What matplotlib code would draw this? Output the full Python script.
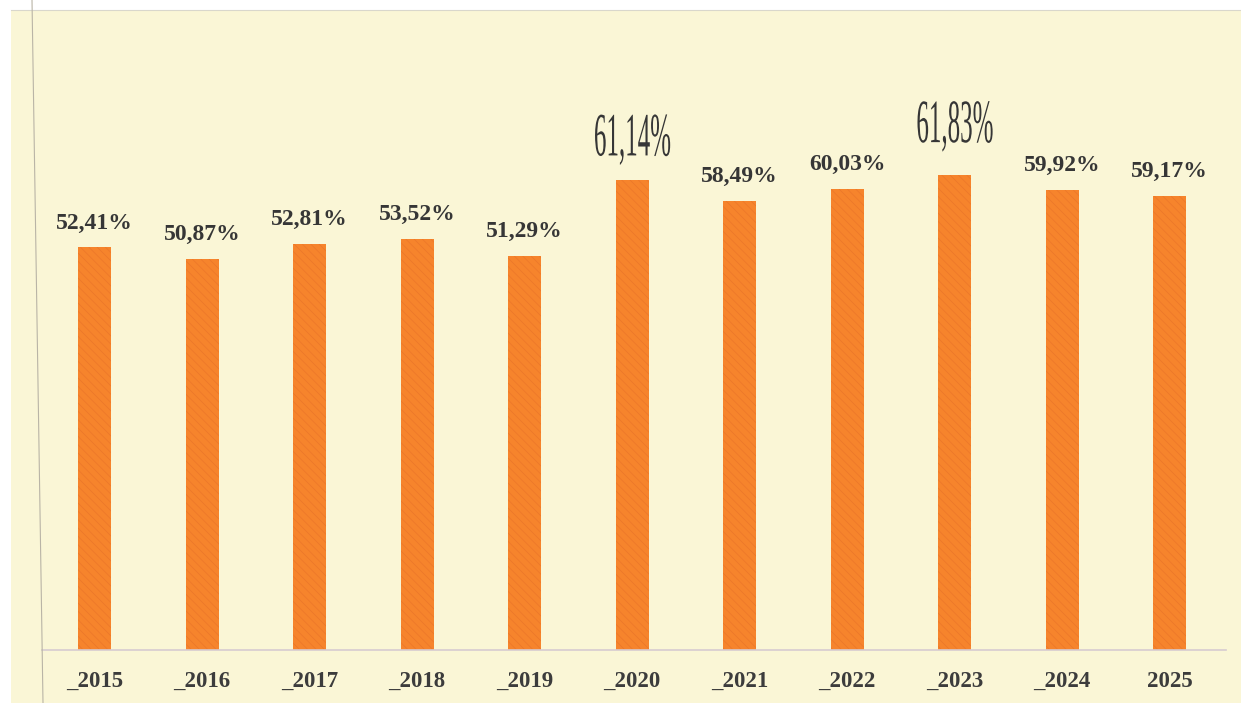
import matplotlib.pyplot as plt
from matplotlib.lines import Line2D
from matplotlib.patches import Rectangle
from matplotlib.patheffects import AbstractPathEffect
from matplotlib.transforms import Affine2D

years = ['_2015', '_2016', '_2017', '_2018', '_2019', '_2020',
         '_2021', '_2022', '_2023', '_2024', '2025']
values = [52.41, 50.87, 52.81, 53.52, 51.29, 61.14,
          58.49, 60.03, 61.83, 59.92, 59.17]
labels = ['52,41%', '50,87%', '52,81%', '53,52%', '51,29%', '61,14%',
          '58,49%', '60,03%', '61,83%', '59,92%', '59,17%']
# years whose label is set in the tall narrow face
big_labels = ['_2020', '_2023']

W, H = 1241, 703
CREAM = '#faf6d6'
ORANGE = '#f6842c'
INK = '#363636'


class Stretch(AbstractPathEffect):
    """Scale glyphs around the text centre (x) and baseline (y)."""

    def __init__(self, sx, sy):
        super().__init__()
        self.sx, self.sy = sx, sy

    def draw_path(self, renderer, gc, tpath, affine, rgbFace=None):
        ext = tpath.get_extents(affine)
        cx = (ext.x0 + ext.x1) / 2
        by = affine.transform((0, 0))[1]
        t = affine + Affine2D().translate(-cx, -by).scale(self.sx, self.sy).translate(cx, by)
        renderer.draw_path(gc, tpath, t, rgbFace)


fig = plt.figure(figsize=(W / 100, H / 100), dpi=100, facecolor='white')

# scanned page: cream sheet with a white margin on the left and top
fig.patches.append(Rectangle((11 / W, 0), 1, 1 - 10 / H, transform=fig.transFigure,
                             facecolor=CREAM, edgecolor='none', zorder=-10))
fig.lines.append(Line2D([11 / W, 1], [1 - 10 / H, 1 - 10 / H], transform=fig.transFigure,
                        color='#d9d7cc', lw=0.8))
fig.lines.append(Line2D([32 / W, 43 / W], [1, 0], transform=fig.transFigure,
                        color='#b9b4a6', lw=0.8))

ax = fig.add_axes([42 / W, 53 / H, 1183.6 / W, 639 / H])
ax.set_facecolor('none')

x = range(len(years))
plt.rcParams['hatch.linewidth'] = 0.4
ax.bar(x, values, width=0.31, color=ORANGE, edgecolor='#e9742a', linewidth=0,
       hatch='\\\\\\\\', zorder=2)

for i, (v, lab, yr) in enumerate(zip(values, labels, years)):
    if yr in big_labels:
        off = 25 if yr == '_2020' else 33
        ax.annotate(lab, (i, v), xytext=(0, off), textcoords='offset pixels',
                    ha='center', va='baseline', family='Liberation Serif',
                    fontsize=30, color=INK, path_effects=[Stretch(0.6, 1.48)])
    else:
        ax.annotate(lab, (i, v), xytext=(0, 19), textcoords='offset pixels',
                    ha='center', va='baseline', family='Liberation Serif',
                    fontweight='bold', fontsize=17, color=INK)

ax.set_xlim(-0.49, 10.52)
ax.set_ylim(0, 83.2)
ax.set_xticks(list(x))
ax.set_xticklabels(years, family='Liberation Serif', fontweight='bold',
                   fontsize=16.5, color='#3c3c3c')
ax.tick_params(axis='x', length=0, pad=15)
ax.set_yticks([])
for side in ['top', 'left', 'right']:
    ax.spines[side].set_visible(False)
ax.spines['bottom'].set_color('#d6cbd0')
ax.spines['bottom'].set_linewidth(1.2)

plt.savefig('out.png', dpi=100, facecolor=fig.get_facecolor())
